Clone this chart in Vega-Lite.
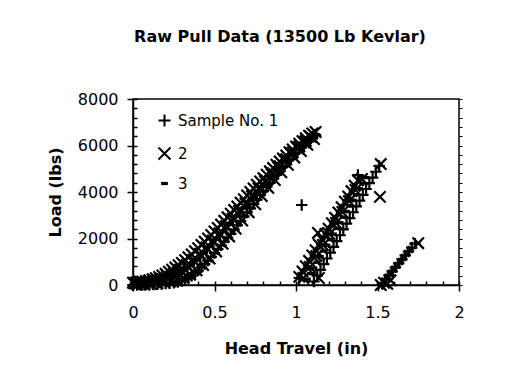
{
  "$schema": "https://vega.github.io/schema/vega-lite/v6.json",
  "width": 326,
  "height": 186,
  "autosize": {"type": "none"},
  "padding": {"left": 133, "top": 99, "right": 62, "bottom": 100},
  "background": "white",
  "title": {"text": "Raw Pull Data (13500 Lb Kevlar)", "font": "DejaVu Sans", "fontSize": 16, "fontWeight": "bold", "color": "black", "offset": 46, "dx": -16},
  "config": {
    "view": {"stroke": "black", "strokeWidth": 1.5},
    "axis": {"domainColor": "black", "domainWidth": 1.5, "tickColor": "black", "tickWidth": 1.5, "grid": false,
      "labelFont": "DejaVu Sans", "labelFontSize": 16, "labelColor": "black",
      "titleFont": "DejaVu Sans", "titleFontSize": 16, "titleFontWeight": "bold", "titleColor": "black"}
  },
  "datasets": {
    "pull": [
      {"sample": "Sample No. 1", "travel": 0.00, "load": 0}, {"sample": "Sample No. 1", "travel": 0.025, "load": 0},
      {"sample": "Sample No. 1", "travel": 0.05, "load": 0}, {"sample": "Sample No. 1", "travel": 0.075, "load": 0},
      {"sample": "Sample No. 1", "travel": 0.10, "load": 10}, {"sample": "Sample No. 1", "travel": 0.125, "load": 20},
      {"sample": "Sample No. 1", "travel": 0.15, "load": 30}, {"sample": "Sample No. 1", "travel": 0.175, "load": 45},
      {"sample": "Sample No. 1", "travel": 0.20, "load": 60}, {"sample": "Sample No. 1", "travel": 0.225, "load": 75},
      {"sample": "Sample No. 1", "travel": 0.25, "load": 90}, {"sample": "Sample No. 1", "travel": 0.275, "load": 130},
      {"sample": "Sample No. 1", "travel": 0.30, "load": 170}, {"sample": "Sample No. 1", "travel": 0.32, "load": 240},
      {"sample": "Sample No. 1", "travel": 0.34, "load": 300}, {"sample": "Sample No. 1", "travel": 0.36, "load": 400},
      {"sample": "Sample No. 1", "travel": 0.38, "load": 510}, {"sample": "Sample No. 1", "travel": 0.40, "load": 620},
      {"sample": "Sample No. 1", "travel": 0.42, "load": 760}, {"sample": "Sample No. 1", "travel": 0.44, "load": 900},
      {"sample": "Sample No. 1", "travel": 0.46, "load": 1050}, {"sample": "Sample No. 1", "travel": 0.48, "load": 1210},
      {"sample": "Sample No. 1", "travel": 0.50, "load": 1370}, {"sample": "Sample No. 1", "travel": 0.52, "load": 1540},
      {"sample": "Sample No. 1", "travel": 0.54, "load": 1710}, {"sample": "Sample No. 1", "travel": 0.56, "load": 1870},
      {"sample": "Sample No. 1", "travel": 0.58, "load": 2040}, {"sample": "Sample No. 1", "travel": 0.60, "load": 2200},
      {"sample": "Sample No. 1", "travel": 0.62, "load": 2380}, {"sample": "Sample No. 1", "travel": 0.64, "load": 2570},
      {"sample": "Sample No. 1", "travel": 0.66, "load": 2750}, {"sample": "Sample No. 1", "travel": 0.68, "load": 2940},
      {"sample": "Sample No. 1", "travel": 0.70, "load": 3120}, {"sample": "Sample No. 1", "travel": 0.72, "load": 3300},
      {"sample": "Sample No. 1", "travel": 0.74, "load": 3490}, {"sample": "Sample No. 1", "travel": 0.76, "load": 3670},
      {"sample": "Sample No. 1", "travel": 0.78, "load": 3860}, {"sample": "Sample No. 1", "travel": 0.80, "load": 4040},
      {"sample": "Sample No. 1", "travel": 0.82, "load": 4220}, {"sample": "Sample No. 1", "travel": 0.84, "load": 4390},
      {"sample": "Sample No. 1", "travel": 0.86, "load": 4570}, {"sample": "Sample No. 1", "travel": 0.88, "load": 4740},
      {"sample": "Sample No. 1", "travel": 0.90, "load": 4920}, {"sample": "Sample No. 1", "travel": 0.92, "load": 5080},
      {"sample": "Sample No. 1", "travel": 0.94, "load": 5250}, {"sample": "Sample No. 1", "travel": 0.96, "load": 5400},
      {"sample": "Sample No. 1", "travel": 0.98, "load": 5550}, {"sample": "Sample No. 1", "travel": 1.00, "load": 5700},
      {"sample": "Sample No. 1", "travel": 1.02, "load": 5840}, {"sample": "Sample No. 1", "travel": 1.04, "load": 5980},
      {"sample": "Sample No. 1", "travel": 1.06, "load": 6110}, {"sample": "Sample No. 1", "travel": 1.08, "load": 6230},
      {"sample": "Sample No. 1", "travel": 1.10, "load": 6350}, {"sample": "Sample No. 1", "travel": 1.12, "load": 6450},
      {"sample": "Sample No. 1", "travel": 1.035, "load": 3440}, {"sample": "Sample No. 1", "travel": 1.02, "load": 300},
      {"sample": "Sample No. 1", "travel": 1.38, "load": 4730},
      {"sample": "Sample No. 1", "travel": 1.11, "load": 150}, {"sample": "Sample No. 1", "travel": 1.13, "load": 400},
      {"sample": "Sample No. 1", "travel": 1.15, "load": 650}, {"sample": "Sample No. 1", "travel": 1.17, "load": 900},
      {"sample": "Sample No. 1", "travel": 1.19, "load": 1140}, {"sample": "Sample No. 1", "travel": 1.21, "load": 1390},
      {"sample": "Sample No. 1", "travel": 1.23, "load": 1640}, {"sample": "Sample No. 1", "travel": 1.25, "load": 1890},
      {"sample": "Sample No. 1", "travel": 1.27, "load": 2140}, {"sample": "Sample No. 1", "travel": 1.29, "load": 2390},
      {"sample": "Sample No. 1", "travel": 1.31, "load": 2640}, {"sample": "Sample No. 1", "travel": 1.33, "load": 2880},
      {"sample": "Sample No. 1", "travel": 1.35, "load": 3130}, {"sample": "Sample No. 1", "travel": 1.37, "load": 3380},
      {"sample": "Sample No. 1", "travel": 1.39, "load": 3630}, {"sample": "Sample No. 1", "travel": 1.41, "load": 3880},
      {"sample": "Sample No. 1", "travel": 1.43, "load": 4130}, {"sample": "Sample No. 1", "travel": 1.45, "load": 4380},
      {"sample": "Sample No. 1", "travel": 1.47, "load": 4620}, {"sample": "Sample No. 1", "travel": 1.49, "load": 4870},
      {"sample": "Sample No. 1", "travel": 1.51, "load": 5120},
      {"sample": "Sample No. 1", "travel": 1.53, "load": 80}, {"sample": "Sample No. 1", "travel": 1.55, "load": 250},
      {"sample": "Sample No. 1", "travel": 1.57, "load": 420}, {"sample": "Sample No. 1", "travel": 1.59, "load": 590},
      {"sample": "Sample No. 1", "travel": 1.61, "load": 760}, {"sample": "Sample No. 1", "travel": 1.63, "load": 930},
      {"sample": "Sample No. 1", "travel": 1.65, "load": 1100}, {"sample": "Sample No. 1", "travel": 1.67, "load": 1270},
      {"sample": "Sample No. 1", "travel": 1.69, "load": 1440}, {"sample": "Sample No. 1", "travel": 1.71, "load": 1610},
      {"sample": "Sample No. 1", "travel": 1.73, "load": 1780},

      {"sample": "2", "travel": 0.00, "load": 100}, {"sample": "2", "travel": 0.02, "load": 110},
      {"sample": "2", "travel": 0.04, "load": 125}, {"sample": "2", "travel": 0.06, "load": 140},
      {"sample": "2", "travel": 0.08, "load": 170}, {"sample": "2", "travel": 0.10, "load": 200},
      {"sample": "2", "travel": 0.12, "load": 250}, {"sample": "2", "travel": 0.14, "load": 295},
      {"sample": "2", "travel": 0.16, "load": 350}, {"sample": "2", "travel": 0.18, "load": 410},
      {"sample": "2", "travel": 0.20, "load": 480}, {"sample": "2", "travel": 0.22, "load": 570},
      {"sample": "2", "travel": 0.24, "load": 655}, {"sample": "2", "travel": 0.26, "load": 750},
      {"sample": "2", "travel": 0.28, "load": 850}, {"sample": "2", "travel": 0.30, "load": 950},
      {"sample": "2", "travel": 0.32, "load": 1070}, {"sample": "2", "travel": 0.34, "load": 1190},
      {"sample": "2", "travel": 0.36, "load": 1315}, {"sample": "2", "travel": 0.38, "load": 1450},
      {"sample": "2", "travel": 0.40, "load": 1580}, {"sample": "2", "travel": 0.42, "load": 1720},
      {"sample": "2", "travel": 0.44, "load": 1860}, {"sample": "2", "travel": 0.46, "load": 2000},
      {"sample": "2", "travel": 0.48, "load": 2150}, {"sample": "2", "travel": 0.50, "load": 2300},
      {"sample": "2", "travel": 0.52, "load": 2450}, {"sample": "2", "travel": 0.54, "load": 2600},
      {"sample": "2", "travel": 0.56, "load": 2760}, {"sample": "2", "travel": 0.58, "load": 2910},
      {"sample": "2", "travel": 0.60, "load": 3070}, {"sample": "2", "travel": 0.62, "load": 3230},
      {"sample": "2", "travel": 0.64, "load": 3380}, {"sample": "2", "travel": 0.66, "load": 3540},
      {"sample": "2", "travel": 0.68, "load": 3690}, {"sample": "2", "travel": 0.70, "load": 3850},
      {"sample": "2", "travel": 0.72, "load": 4000}, {"sample": "2", "travel": 0.74, "load": 4150},
      {"sample": "2", "travel": 0.76, "load": 4310}, {"sample": "2", "travel": 0.78, "load": 4450},
      {"sample": "2", "travel": 0.80, "load": 4600}, {"sample": "2", "travel": 0.82, "load": 4740},
      {"sample": "2", "travel": 0.84, "load": 4890}, {"sample": "2", "travel": 0.86, "load": 5030},
      {"sample": "2", "travel": 0.88, "load": 5170}, {"sample": "2", "travel": 0.90, "load": 5310},
      {"sample": "2", "travel": 0.92, "load": 5440}, {"sample": "2", "travel": 0.94, "load": 5570},
      {"sample": "2", "travel": 0.96, "load": 5710}, {"sample": "2", "travel": 0.98, "load": 5830},
      {"sample": "2", "travel": 1.00, "load": 5960}, {"sample": "2", "travel": 1.02, "load": 6080},
      {"sample": "2", "travel": 1.04, "load": 6190}, {"sample": "2", "travel": 1.06, "load": 6310},
      {"sample": "2", "travel": 1.08, "load": 6420}, {"sample": "2", "travel": 1.10, "load": 6520},
      {"sample": "2", "travel": 1.12, "load": 6580},
      {"sample": "2", "travel": 0.02, "load": 55}, {"sample": "2", "travel": 0.06, "load": 75},
      {"sample": "2", "travel": 0.10, "load": 110}, {"sample": "2", "travel": 0.14, "load": 160},
      {"sample": "2", "travel": 0.18, "load": 230}, {"sample": "2", "travel": 0.22, "load": 320},
      {"sample": "2", "travel": 0.26, "load": 430}, {"sample": "2", "travel": 0.30, "load": 570},
      {"sample": "2", "travel": 0.34, "load": 750}, {"sample": "2", "travel": 0.38, "load": 980},
      {"sample": "2", "travel": 0.42, "load": 1240}, {"sample": "2", "travel": 0.46, "load": 1530},
      {"sample": "2", "travel": 0.50, "load": 1840}, {"sample": "2", "travel": 0.54, "load": 2150},
      {"sample": "2", "travel": 0.58, "load": 2470}, {"sample": "2", "travel": 0.62, "load": 2810},
      {"sample": "2", "travel": 0.66, "load": 3150}, {"sample": "2", "travel": 0.70, "load": 3480},
      {"sample": "2", "travel": 0.74, "load": 3820}, {"sample": "2", "travel": 0.78, "load": 4150},
      {"sample": "2", "travel": 0.82, "load": 4480}, {"sample": "2", "travel": 0.86, "load": 4800},
      {"sample": "2", "travel": 0.90, "load": 5110}, {"sample": "2", "travel": 0.94, "load": 5410},
      {"sample": "2", "travel": 0.98, "load": 5700}, {"sample": "2", "travel": 1.02, "load": 5960},
      {"sample": "2", "travel": 1.06, "load": 6200},
      {"sample": "2", "travel": 0.01, "load": 75}, {"sample": "2", "travel": 0.05, "load": 92},
      {"sample": "2", "travel": 0.09, "load": 130}, {"sample": "2", "travel": 0.13, "load": 192},
      {"sample": "2", "travel": 0.17, "load": 270}, {"sample": "2", "travel": 0.21, "load": 375},
      {"sample": "2", "travel": 0.25, "load": 512}, {"sample": "2", "travel": 0.29, "load": 670},
      {"sample": "2", "travel": 0.33, "load": 860}, {"sample": "2", "travel": 0.37, "load": 1088},
      {"sample": "2", "travel": 0.41, "load": 1340}, {"sample": "2", "travel": 0.45, "load": 1620},
      {"sample": "2", "travel": 0.49, "load": 1915}, {"sample": "2", "travel": 0.53, "load": 2225},
      {"sample": "2", "travel": 0.57, "load": 2535}, {"sample": "2", "travel": 0.61, "load": 2855},
      {"sample": "2", "travel": 0.65, "load": 3180}, {"sample": "2", "travel": 0.69, "load": 3505},
      {"sample": "2", "travel": 0.73, "load": 3825}, {"sample": "2", "travel": 0.77, "load": 4150},
      {"sample": "2", "travel": 0.81, "load": 4460}, {"sample": "2", "travel": 0.85, "load": 4765},
      {"sample": "2", "travel": 0.89, "load": 5065}, {"sample": "2", "travel": 0.93, "load": 5350},
      {"sample": "2", "travel": 0.97, "load": 5635}, {"sample": "2", "travel": 1.01, "load": 5895},
      {"sample": "2", "travel": 1.05, "load": 6135}, {"sample": "2", "travel": 1.09, "load": 6375},
      {"sample": "2", "travel": 0.03, "load": 25}, {"sample": "2", "travel": 0.07, "load": 30},
      {"sample": "2", "travel": 0.11, "load": 45}, {"sample": "2", "travel": 0.15, "load": 78},
      {"sample": "2", "travel": 0.19, "load": 112}, {"sample": "2", "travel": 0.23, "load": 165},
      {"sample": "2", "travel": 0.27, "load": 228}, {"sample": "2", "travel": 0.31, "load": 315},
      {"sample": "2", "travel": 0.35, "load": 445}, {"sample": "2", "travel": 0.39, "load": 630},
      {"sample": "2", "travel": 0.43, "load": 860}, {"sample": "2", "travel": 0.47, "load": 1140},
      {"sample": "2", "travel": 0.51, "load": 1445}, {"sample": "2", "travel": 0.55, "load": 1770},
      {"sample": "2", "travel": 0.59, "load": 2090}, {"sample": "2", "travel": 0.63, "load": 2420},
      {"sample": "2", "travel": 0.67, "load": 2775}, {"sample": "2", "travel": 0.71, "load": 3130},
      {"sample": "2", "travel": 0.75, "load": 3475}, {"sample": "2", "travel": 0.79, "load": 3830},
      {"sample": "2", "travel": 0.83, "load": 4180}, {"sample": "2", "travel": 0.87, "load": 4515},
      {"sample": "2", "travel": 0.91, "load": 4850}, {"sample": "2", "travel": 0.95, "load": 5170},
      {"sample": "2", "travel": 0.99, "load": 5480}, {"sample": "2", "travel": 1.03, "load": 5765},
      {"sample": "2", "travel": 1.07, "load": 6030}, {"sample": "2", "travel": 1.11, "load": 6280},
      {"sample": "2", "travel": 1.02, "load": 350}, {"sample": "2", "travel": 1.04, "load": 580},
      {"sample": "2", "travel": 1.06, "load": 810}, {"sample": "2", "travel": 1.08, "load": 1040},
      {"sample": "2", "travel": 1.10, "load": 1270}, {"sample": "2", "travel": 1.12, "load": 1500},
      {"sample": "2", "travel": 1.14, "load": 1730}, {"sample": "2", "travel": 1.16, "load": 1960},
      {"sample": "2", "travel": 1.18, "load": 2190}, {"sample": "2", "travel": 1.20, "load": 2420},
      {"sample": "2", "travel": 1.22, "load": 2660}, {"sample": "2", "travel": 1.24, "load": 2890},
      {"sample": "2", "travel": 1.26, "load": 3120}, {"sample": "2", "travel": 1.28, "load": 3350},
      {"sample": "2", "travel": 1.30, "load": 3580}, {"sample": "2", "travel": 1.32, "load": 3810},
      {"sample": "2", "travel": 1.34, "load": 4040}, {"sample": "2", "travel": 1.36, "load": 4270},
      {"sample": "2", "travel": 1.38, "load": 4500},
      {"sample": "2", "travel": 1.045, "load": 300}, {"sample": "2", "travel": 1.085, "load": 775},
      {"sample": "2", "travel": 1.125, "load": 1245}, {"sample": "2", "travel": 1.165, "load": 1720},
      {"sample": "2", "travel": 1.205, "load": 2190}, {"sample": "2", "travel": 1.245, "load": 2665},
      {"sample": "2", "travel": 1.285, "load": 3140}, {"sample": "2", "travel": 1.325, "load": 3610},
      {"sample": "2", "travel": 1.365, "load": 4085}, {"sample": "2", "travel": 1.405, "load": 4560},
      {"sample": "2", "travel": 1.135, "load": 2240}, {"sample": "2", "travel": 1.14, "load": 300},
      {"sample": "2", "travel": 1.515, "load": 3790}, {"sample": "2", "travel": 1.52, "load": 5200},
      {"sample": "2", "travel": 1.52, "load": 0}, {"sample": "2", "travel": 1.54, "load": 100},
      {"sample": "2", "travel": 1.56, "load": 50}, {"sample": "2", "travel": 1.58, "load": 200},
      {"sample": "2", "travel": 1.75, "load": 1800},

      {"sample": "3", "travel": 0.00, "load": 50}, {"sample": "3", "travel": 0.04, "load": 60},
      {"sample": "3", "travel": 0.08, "load": 90}, {"sample": "3", "travel": 0.12, "load": 135},
      {"sample": "3", "travel": 0.16, "load": 190}, {"sample": "3", "travel": 0.20, "load": 270},
      {"sample": "3", "travel": 0.24, "load": 370}, {"sample": "3", "travel": 0.28, "load": 490},
      {"sample": "3", "travel": 0.32, "load": 650}, {"sample": "3", "travel": 0.36, "load": 860},
      {"sample": "3", "travel": 0.40, "load": 1100}, {"sample": "3", "travel": 0.44, "load": 1380},
      {"sample": "3", "travel": 0.48, "load": 1680}, {"sample": "3", "travel": 0.52, "load": 2000},
      {"sample": "3", "travel": 0.56, "load": 2310}, {"sample": "3", "travel": 0.60, "load": 2640},
      {"sample": "3", "travel": 0.64, "load": 2980}, {"sample": "3", "travel": 0.68, "load": 3320},
      {"sample": "3", "travel": 0.72, "load": 3650}, {"sample": "3", "travel": 0.76, "load": 3990},
      {"sample": "3", "travel": 0.80, "load": 4320}, {"sample": "3", "travel": 0.84, "load": 4640},
      {"sample": "3", "travel": 0.88, "load": 4960}, {"sample": "3", "travel": 0.92, "load": 5260},
      {"sample": "3", "travel": 0.96, "load": 5560}, {"sample": "3", "travel": 1.00, "load": 5830},
      {"sample": "3", "travel": 1.04, "load": 6080}, {"sample": "3", "travel": 1.08, "load": 6330},
      {"sample": "3", "travel": 1.07, "load": 250}, {"sample": "3", "travel": 1.09, "load": 490},
      {"sample": "3", "travel": 1.11, "load": 730}, {"sample": "3", "travel": 1.13, "load": 980},
      {"sample": "3", "travel": 1.15, "load": 1220}, {"sample": "3", "travel": 1.17, "load": 1460},
      {"sample": "3", "travel": 1.19, "load": 1710}, {"sample": "3", "travel": 1.21, "load": 1950},
      {"sample": "3", "travel": 1.23, "load": 2190}, {"sample": "3", "travel": 1.25, "load": 2440},
      {"sample": "3", "travel": 1.27, "load": 2680}, {"sample": "3", "travel": 1.29, "load": 2920},
      {"sample": "3", "travel": 1.31, "load": 3160}, {"sample": "3", "travel": 1.33, "load": 3410},
      {"sample": "3", "travel": 1.35, "load": 3650}, {"sample": "3", "travel": 1.37, "load": 3890},
      {"sample": "3", "travel": 1.39, "load": 4140}, {"sample": "3", "travel": 1.41, "load": 4380},
      {"sample": "3", "travel": 1.43, "load": 4620},
      {"sample": "3", "travel": 1.54, "load": 150}, {"sample": "3", "travel": 1.56, "load": 320},
      {"sample": "3", "travel": 1.58, "load": 490}, {"sample": "3", "travel": 1.60, "load": 660},
      {"sample": "3", "travel": 1.62, "load": 830}, {"sample": "3", "travel": 1.64, "load": 1000},
      {"sample": "3", "travel": 1.66, "load": 1170}, {"sample": "3", "travel": 1.68, "load": 1340},
      {"sample": "3", "travel": 1.70, "load": 1510}
    ]
  },
  "data": {"name": "pull"},
  "resolve": {"axis": {"x": "independent", "y": "independent"}},
  "layer": [
    {
      "mark": {"type": "point", "opacity": 0},
      "encoding": {
        "x": {"field": "travel", "type": "quantitative",
          "scale": {"domain": [0, 2], "nice": false, "zero": false},
          "axis": {"orient": "bottom", "values": [0,0.1,0.2,0.3,0.4,0.5,0.6,0.7,0.8,0.9,1,1.1,1.2,1.3,1.4,1.5,1.6,1.7,1.8,1.9,2],
            "tickSize": -4, "labels": false, "domain": false, "title": null}},
        "y": {"field": "load", "type": "quantitative",
          "scale": {"domain": [0, 8000], "nice": false},
          "axis": {"orient": "left", "values": [0,400,800,1200,1600,2000,2400,2800,3200,3600,4000,4400,4800,5200,5600,6000,6400,6800,7200,7600,8000],
            "tickSize": -4, "labels": false, "domain": false, "title": null}}
      }
    },
    {
      "mark": {"type": "point", "opacity": 0},
      "encoding": {
        "x": {"field": "travel", "type": "quantitative", "axis": null},
        "y": {"field": "load", "type": "quantitative",
          "axis": {"orient": "right", "values": [0,400,800,1200,1600,2000,2400,2800,3200,3600,4000,4400,4800,5200,5600,6000,6400,6800,7200,7600,8000],
            "tickSize": 3, "tickWidth": 1, "labels": false, "domain": false, "title": null}}
      }
    },
    {
      "mark": {"type": "point", "filled": false, "strokeWidth": 2.2, "color": "black", "size": 130, "opacity": 1, "clip": false},
      "encoding": {
        "x": {"field": "travel", "type": "quantitative", "title": "Head Travel (in)",
          "axis": {"orient": "bottom", "values": [0, 0.5, 1, 1.5, 2], "format": "~g",
            "tickSize": 6, "labelPadding": 13, "titlePadding": 20, "labelFlush": false}},
        "y": {"field": "load", "type": "quantitative", "title": "Load (lbs)",
          "axis": {"orient": "left", "values": [0, 2000, 4000, 6000, 8000], "format": "d",
            "tickSize": 6, "labelPadding": 9, "titlePadding": 14, "labelFlush": false}},
        "shape": {"field": "sample", "type": "nominal",
          "scale": {"domain": ["Sample No. 1", "2", "3"], "range": ["M-1,0L1,0M0,-1L0,1", "M-1,-1L1,1M-1,1L1,-1", "M-0.4,-0.1L0.4,-0.1L0.4,0.1L-0.4,0.1Z"]},
          "legend": {"orient": "none", "legendX": 24, "legendY": 14, "title": null, "padding": 0,
            "labelFont": "DejaVu Sans", "labelFontSize": 15, "labelColor": "black",
            "symbolSize": 144, "symbolStrokeColor": "black", "symbolStrokeWidth": 2, "symbolFillColor": "transparent",
            "rowPadding": 12, "labelOffset": 6}}
      }
    }
  ]
}
